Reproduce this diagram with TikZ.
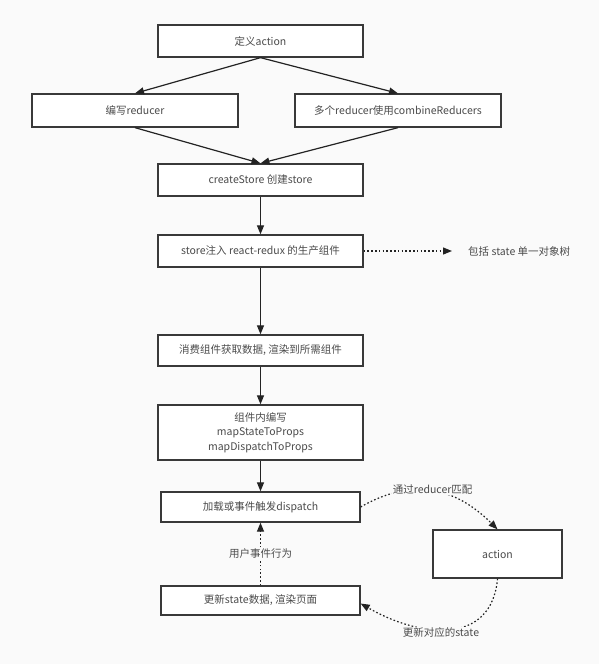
\documentclass[tikz,border=0pt]{standalone}
\usepackage{fontspec}
\setmainfont{Noto Sans CJK SC}
\usepackage{tikz}
\definecolor{bg}{RGB}{250, 250, 250}
\definecolor{tx}{RGB}{75, 75, 75}
\definecolor{ln}{RGB}{35, 35, 35}
\usetikzlibrary{arrows.meta}

\begin{document}
\begin{tikzpicture}[
  every node/.style={inner sep=0pt, text=tx, font=\fontsize{10.5}{14.5}\selectfont},
  box/.style={rectangle, fill=white, draw=ln!90, line width=1.3pt, align=center},
  flow/.style={line width=1.2pt, color=ln, -{Triangle[length=9pt, width=7pt]}},
  dots/.style={flow, dash pattern=on 1.6pt off 2.2pt},
  lbl/.style={fill=bg, inner sep=1pt}]
\fill [bg] (0pt, 0pt) rectangle (599pt, -664pt);
\useasboundingbox (0pt, 0pt) rectangle (599pt, -664pt);
\node (1) [box, minimum width=205pt, minimum height=32pt] at (260.5pt, -41.0pt) {定义action};
\node (2) [box, minimum width=206pt, minimum height=33pt] at (135.0pt, -110.5pt) {编写reducer};
\node (3) [box, minimum width=206pt, minimum height=33pt] at (398.0pt, -110.5pt) {多个reducer使用combineReducers};
\node (4) [box, minimum width=205pt, minimum height=32pt] at (260.5pt, -180.0pt) {createStore 创建store};
\node (5) [box, minimum width=205pt, minimum height=32pt] at (260.5pt, -251.0pt) {store注入 react-redux 的生产组件};
\node (6) [anchor=west] at (468.0pt, -251.0pt) {包括 state 单一对象树};
\node (7) [box, minimum width=205pt, minimum height=31pt] at (260.5pt, -350.5pt) {消费组件获取数据, 渲染到所需组件};
\node (8) [box, minimum width=205pt, minimum height=55pt] at (260.5pt, -432.5pt) {组件内编写\\mapStateToProps\\mapDispatchToProps};
\node (9) [box, minimum width=199pt, minimum height=30pt] at (260.5pt, -507.0pt) {加载或事件触发dispatch};
\node (10) [box, minimum width=129pt, minimum height=48pt] at (497.5pt, -554.0pt) {action};
\node (11) [box, minimum width=199pt, minimum height=29pt] at (260.5pt, -600.5pt) {更新state数据, 渲染页面};
\draw [flow] (1.south) to (2.north);
\draw [flow] (1.south) to (3.north);
\draw [flow] (2.south) to (4.north);
\draw [flow] (3.south) to (4.north);
\draw [flow] (4) to (5);
\draw [dots] (5.east) to ([xshift=-16pt]6.west);
\draw [flow] (5) to (7);
\draw [flow] (7) to (8);
\draw [flow] (8) to (9);
\draw [dots] (11) to node [lbl] {用户事件行为} (9);
\draw [dots] (9.east) to [out=30, in=135, looseness=1.1] node [lbl, pos=0.5, yshift=2pt] {通过reducer匹配} (10.north);
\draw [dots] (10.south) to [out=-95, in=-30, looseness=1.25] node [lbl, pos=0.55, yshift=-3pt] {更新对应的state} ([yshift=-3pt]11.east);
\end{tikzpicture}
\end{document}
